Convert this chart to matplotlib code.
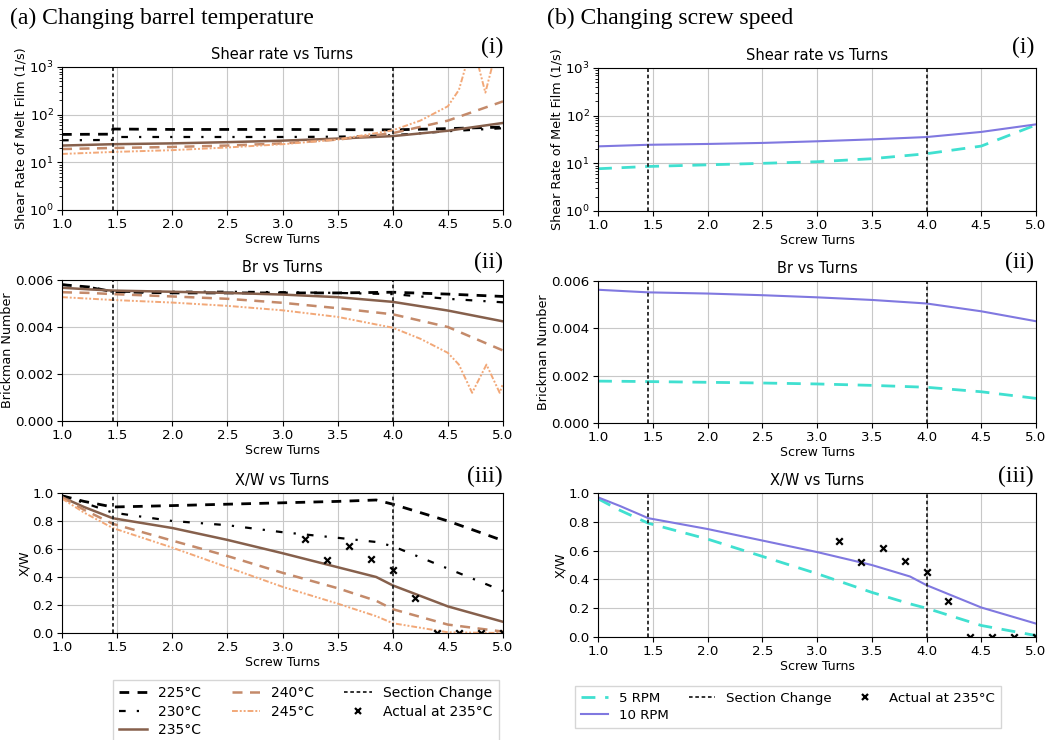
import matplotlib
matplotlib.use("Agg")
import matplotlib.pyplot as plt
from matplotlib.lines import Line2D
from matplotlib.ticker import FormatStrFormatter

# ---------------- data ----------------
section_turns = [1.46, 4.0]

# shear rate of the melt film (1/s)
sr_turns = [1.0, 1.46, 1.46, 2.0, 2.5, 3.0, 3.5, 4.0, 4.5, 5.0]
sr_225 = [38.5, 39, 50, 49, 49, 49, 48.5, 48, 51, 55]
sr_230 = [29, 29.5, 34, 34, 34, 34, 34.5, 37, 45, 52]
sr_235 = [22.5, 24, 24, 25, 26.5, 28.5, 31.5, 35.5, 46, 67]
sr_240 = [19, 20, 20, 21, 22.5, 25, 30, 41, 75, 190]
sr_245_turns = [1.0, 1.46, 2.0, 2.5, 3.0, 3.5, 4.0, 4.25, 4.5, 4.6, 4.66,
                4.72, 4.78, 4.84, 4.9, 4.95, 5.0]
sr_245 = [15, 16.5, 18, 20.5, 24, 30, 47, 75, 150, 330, 1000,
          3000, 1000, 290, 1000, 3000, 3000]
sr_rpm_turns = [1.0, 1.46, 2.0, 2.5, 3.0, 3.5, 4.0, 4.5, 5.0]
sr_5rpm = [7.7, 8.6, 9.3, 10.0, 10.8, 12.5, 15.9, 23, 64]
sr_10rpm = [22.7, 24.5, 25.5, 26.8, 29, 31.8, 35.6, 45.6, 65.7]

# Brinkman number
br_turns = [1.0, 1.25, 1.46, 2.0, 2.5, 3.0, 3.5, 4.0, 4.5, 5.0]
br_225 = [0.0058, 0.0057, 0.0055, 0.00545, 0.00545, 0.00545, 0.00545, 0.00548, 0.0054, 0.0053]
br_230 = [0.0058, 0.0057, 0.0055, 0.0055, 0.0055, 0.00548, 0.00545, 0.0054, 0.0052, 0.00505]
br_235 = [0.00567, 0.0056, 0.00555, 0.0055, 0.00545, 0.00538, 0.00527, 0.00507, 0.0047, 0.00424]
br_240 = [0.00548, 0.00545, 0.0054, 0.0053, 0.0052, 0.00503, 0.0048, 0.00454, 0.004, 0.003]
br_245_turns = [1.0, 1.46, 2.0, 2.5, 3.0, 3.5, 4.0, 4.25, 4.5, 4.6, 4.72, 4.85, 4.97, 5.0]
br_245 = [0.00527, 0.00515, 0.00504, 0.0049, 0.00471, 0.00443, 0.00397, 0.0035,
          0.0029, 0.0024, 0.0012, 0.0024, 0.0012, 0.0016]
br_5rpm = [0.00177, 0.00176, 0.00175, 0.00172, 0.00169, 0.00165, 0.00159, 0.00151, 0.00132, 0.00104]
br_10rpm = [0.00563, 0.00557, 0.00552, 0.00547, 0.0054, 0.00531, 0.0052, 0.00505, 0.00472, 0.0043]

# solid bed fraction X/W
xw_turns = [1.0, 1.2, 1.46, 2.0, 2.5, 3.0, 3.5, 3.85, 4.0, 4.5, 5.0]
xw_225 = [0.98, 0.94, 0.90, 0.91, 0.92, 0.93, 0.94, 0.95, 0.92, 0.80, 0.66]
xw_230 = [0.98, 0.93, 0.86, 0.80, 0.77, 0.72, 0.68, 0.65, 0.62, 0.46, 0.30]
xw_235 = [0.97, 0.90, 0.82, 0.75, 0.665, 0.57, 0.47, 0.40, 0.34, 0.19, 0.08]
xw_240 = [0.97, 0.88, 0.78, 0.66, 0.55, 0.43, 0.32, 0.23, 0.17, 0.06, 0.01]
xw_245 = [0.96, 0.86, 0.75, 0.61, 0.47, 0.33, 0.21, 0.12, 0.07, 0.005, 0.0]
xw_5rpm = [0.96, 0.88, 0.79, 0.68, 0.56, 0.44, 0.31, 0.23, 0.20, 0.08, 0.01]
xw_10rpm = [0.97, 0.91, 0.825, 0.75, 0.67, 0.59, 0.50, 0.42, 0.36, 0.205, 0.093]

# measured X/W at 235 °C
actual_turns = [3.2, 3.4, 3.6, 3.8, 4.0, 4.2, 4.4, 4.6, 4.8, 5.0]
actual_xw = [0.67, 0.52, 0.62, 0.53, 0.45, 0.25, 0.0, 0.0, 0.0, 0.0]

temp_labels = ["225°C", "230°C", "235°C", "240°C", "245°C"]
rpm_labels = ["5 RPM", "10 RPM"]

# ---------------- styles ----------------
temp_styles = [
    dict(color="black", lw=2.0, dashes=(3.5, 3)),
    dict(color="black", lw=1.6, dashes=(3, 5, 1, 5)),
    dict(color="#86604c", lw=1.8),
    dict(color="#c48a6a", lw=1.8, dashes=(4, 3)),
    dict(color="#f2a878", lw=1.4, dashes=(3, 1, 1, 1, 1, 1)),
]
rpm_styles = [
    dict(color="#40e0d0", lw=2.0, dashes=(5, 3.5)),
    dict(color="#8078e0", lw=1.5),
]
section_style = dict(color="#222222", lw=1.3, dashes=(2, 1.5))

fig = plt.figure(figsize=(10.61, 7.40), dpi=100)
W, H = 1061, 740


def add_ax(x0, x1, y0, y1):
    return fig.add_axes([x0 / W, 1 - y1 / H, (x1 - x0) / W, (y1 - y0) / H])


def style_ax(ax, title, ylabel):
    ax.set_xlim(1.0, 5.0)
    ax.set_xticks([1.0, 1.5, 2.0, 2.5, 3.0, 3.5, 4.0, 4.5, 5.0])
    ax.set_title(title, fontsize=10.5, pad=6)
    ax.set_xlabel("Screw Turns", fontsize=9, labelpad=1)
    ax.set_ylabel(ylabel, fontsize=9.2, labelpad=1)
    ax.tick_params(labelsize=9.6, pad=2.5)
    ax.grid(True, color="#c8c8c8", lw=0.8)
    ax.set_axisbelow(True)
    for xv in section_turns:
        ax.axvline(xv, **section_style)


rows_left = [(67, 210), (280, 421), (493, 633)]
rows_right = [(68, 211), (281, 423), (493, 637)]
axL = [add_ax(62, 503, a, b) for a, b in rows_left]
axR = [add_ax(598, 1036, a, b) for a, b in rows_right]

# ---- column (a): barrel temperature ----
sr_sets = [(sr_turns, sr_225), (sr_turns, sr_230), (sr_turns, sr_235),
           (sr_turns, sr_240), (sr_245_turns, sr_245)]
br_sets = [(br_turns, br_225), (br_turns, br_230), (br_turns, br_235),
           (br_turns, br_240), (br_245_turns, br_245)]
xw_sets = [xw_225, xw_230, xw_235, xw_240, xw_245]

for (xs, ys), st in zip(sr_sets, temp_styles):
    axL[0].plot(xs, ys, **st)
for (xs, ys), st in zip(br_sets, temp_styles):
    axL[1].plot(xs, ys, **st)
for ys, st in zip(xw_sets, temp_styles):
    axL[2].plot(xw_turns, ys, **st)
axL[2].scatter(actual_turns, actual_xw, marker="x", color="black", s=22, lw=1.6, zorder=5)

# ---- column (b): screw speed ----
axR[0].plot(sr_rpm_turns, sr_5rpm, **rpm_styles[0])
axR[0].plot(sr_rpm_turns, sr_10rpm, **rpm_styles[1])
axR[1].plot(br_turns, br_5rpm, **rpm_styles[0])
axR[1].plot(br_turns, br_10rpm, **rpm_styles[1])
axR[2].plot(xw_turns, xw_5rpm, **rpm_styles[0])
axR[2].plot(xw_turns, xw_10rpm, **rpm_styles[1])
axR[2].scatter(actual_turns, actual_xw, marker="x", color="black", s=22, lw=1.6, zorder=5)

for axes in (axL, axR):
    style_ax(axes[0], "Shear rate vs Turns", "Shear Rate of Melt Film (1/s)")
    axes[0].set_yscale("log")
    axes[0].set_ylim(1, 1000)
    style_ax(axes[1], "Br vs Turns", "Brickman Number")
    axes[1].set_ylim(0, 0.006)
    axes[1].set_yticks([0.0, 0.002, 0.004, 0.006])
    axes[1].yaxis.set_major_formatter(FormatStrFormatter("%.3f"))
    style_ax(axes[2], "X/W vs Turns", "X/W")
    axes[2].set_ylim(0, 1.0)
    axes[2].set_yticks([0.0, 0.2, 0.4, 0.6, 0.8, 1.0])

# ---- legends ----
section_handle = Line2D([], [], **section_style)
actual_handle = Line2D([], [], marker="x", color="black", ls="none", ms=5, mew=1.6)

temp_handles = [Line2D([], [], **st) for st in temp_styles]
fig.legend(temp_handles + [section_handle, actual_handle],
           temp_labels + ["Section Change", "Actual at 235°C"],
           ncol=3, loc="upper center", bbox_to_anchor=(306 / W, 1 - 673 / H),
           fontsize=10, frameon=True, fancybox=False, edgecolor="#cccccc",
           columnspacing=2.2, handlelength=2.0, borderpad=0.45, labelspacing=0.32)

rpm_handles = [Line2D([], [], **st) for st in rpm_styles]
fig.legend(rpm_handles + [section_handle, actual_handle],
           rpm_labels + ["Section Change", "Actual at 235°C"],
           ncol=3, loc="upper center", bbox_to_anchor=(788 / W, 1 - 679 / H),
           fontsize=9.6, frameon=True, fancybox=False, edgecolor="#cccccc",
           columnspacing=1.5, handlelength=2.0, borderpad=0.45, labelspacing=0.3)

# ---- panel headings ----
serif = ["Liberation Serif", "DejaVu Serif"]
fig.text(10 / W, 1 - 18 / H, "(a) Changing barrel temperature", family=serif,
         fontsize=17, va="center", ha="left")
fig.text(547 / W, 1 - 18 / H, "(b) Changing screw speed", family=serif,
         fontsize=17, va="center", ha="left")
for ax_col, xr in ((axL, 503), (axR, 1034)):
    for ax, tag, yc in zip(ax_col, ["(i)", "(ii)", "(iii)"], [47, 262, 476]):
        fig.text(xr / W, 1 - yc / H, tag, family=serif, fontsize=17,
                 ha="right", va="center")

fig.savefig("out.png", dpi=100)
